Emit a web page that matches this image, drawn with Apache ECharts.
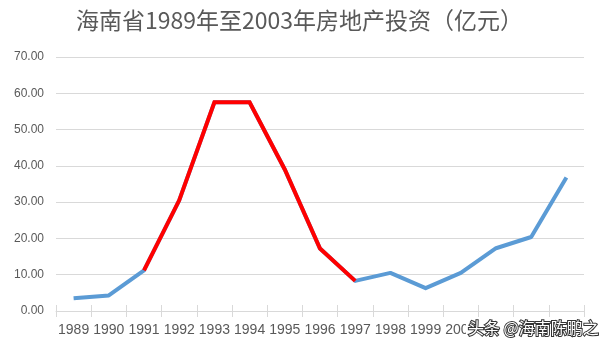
<!DOCTYPE html>
<html>
<head>
<meta charset="utf-8">
<script src="https://cdn.jsdelivr.net/npm/echarts@6/dist/echarts.min.js"></script>
<style>
  html, body { margin: 0; padding: 0; background: #fff; }
  #chart { width: 599px; height: 344px; }
</style>
</head>
<body>
<div id="chart"></div>
<script>
// Hainan real-estate investment, 1989–2003 (100 million yuan)
const years = ['1989','1990','1991','1992','1993','1994','1995','1996','1997','1998','1999','2000','2001','2002','2003'];
const investment = [3.5, 4.3, 11.2, 30.5, 57.5, 57.5, 39.0, 17.2, 8.3, 10.5, 6.3, 10.5, 17.3, 20.4, 36.8];
// bubble years highlighted in red
const bubbleYears = ['1991','1992','1993','1994','1995','1996','1997'];
const yTicks = [0, 10, 20, 30, 40, 50, 60, 70];

const bubble = years.map((y, i) => bubbleYears.includes(y) ? investment[i] : null);

const chart = echarts.init(document.getElementById('chart'));
chart.setOption({
  animation: false,
  backgroundColor: '#ffffff',
  title: {
    text: '海南省1989年至2003年房地产投资（亿元）',
    left: 'center',
    top: 4,
    textStyle: {
      fontFamily: 'Noto Sans CJK SC',
      fontSize: 23,
      fontWeight: 'normal',
      color: '#595959'
    }
  },
  grid: { left: 56, right: 15, top: 57, bottom: 33 },
  xAxis: [
    {
      type: 'category',
      data: years,
      boundaryGap: true,
      axisLine: { lineStyle: { color: '#d9d9d9', width: 1 } },
      axisTick: { show: true, length: 6, lineStyle: { color: '#d9d9d9' } },
      axisLabel: {
        color: '#595959',
        fontSize: 14,
        fontFamily: 'Liberation Sans',
        interval: 0,
        margin: 12
      }
    },
    {
      // upper half of the crossing tick marks
      type: 'category',
      data: years,
      position: 'bottom',
      boundaryGap: true,
      axisLine: { show: false },
      axisTick: { show: true, inside: true, length: 6, lineStyle: { color: '#d9d9d9' } },
      axisLabel: { show: false }
    }
  ],
  yAxis: {
    type: 'value',
    min: yTicks[0],
    max: yTicks[yTicks.length - 1],
    interval: 10,
    axisLine: { show: false },
    axisTick: { show: false },
    splitLine: { lineStyle: { color: '#d9d9d9', width: 1 } },
    axisLabel: {
      color: '#595959',
      fontSize: 12,
      fontFamily: 'Liberation Sans',
      margin: 12,
      formatter: v => v.toFixed(2)
    }
  },
  series: [
    {
      type: 'line',
      data: investment,
      symbol: 'none',
      lineStyle: { color: '#5b9bd5', width: 4, join: 'round' },
      z: 2
    },
    {
      type: 'line',
      data: bubble,
      symbol: 'none',
      connectNulls: false,
      lineStyle: { color: '#ff0000', width: 4, join: 'miter' },
      z: 3
    }
  ],
  graphic: [
    {
      // credit stamp, bottom right
      type: 'text',
      left: 466,
      top: 318,
      style: {
        text: '头条 @海南陈鹏之',
        fontFamily: 'Noto Sans CJK SC',
        fontSize: 16,
        fill: '#ffffff',
        stroke: '#333333',
        lineWidth: 2,
        backgroundColor: '#ffffff',
        padding: [2, 8, 6, 2]
      },
      z: 10
    }
  ]
});
</script>
</body>
</html>
